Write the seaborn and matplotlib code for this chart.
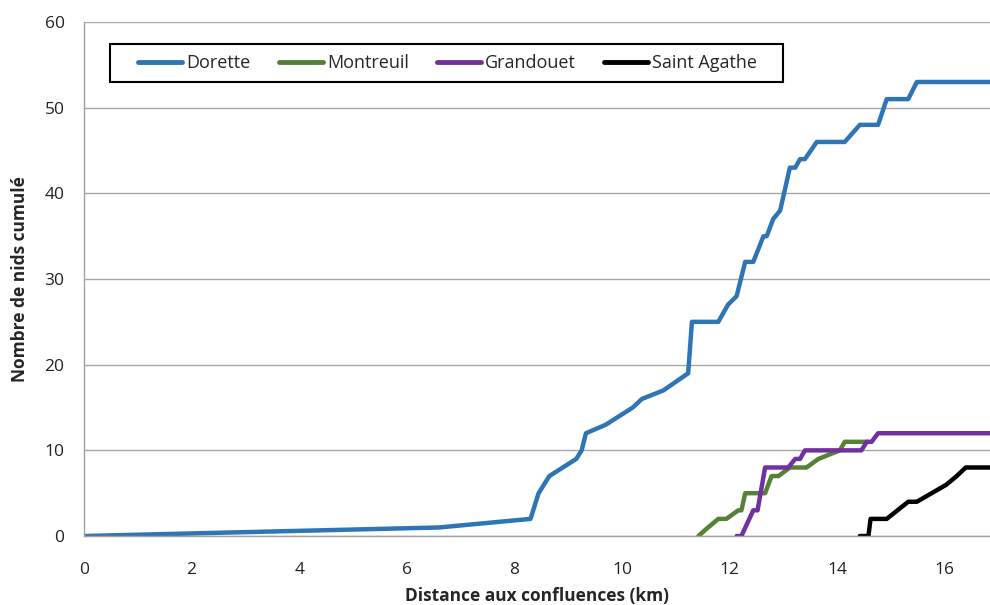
import numpy as np
import pandas as pd
import matplotlib
matplotlib.use("Agg")
import matplotlib.pyplot as plt
from matplotlib.lines import Line2D
from matplotlib.patches import Rectangle
from matplotlib.legend_handler import HandlerLine2D
import seaborn as sns

# Data
dorette_x = [0, 6.6, 8.3, 8.45, 8.65, 9.15, 9.25, 9.33, 9.7, 10.2, 10.37, 10.77, 11.23, 11.3,
             11.79, 11.97, 12.13, 12.29, 12.44, 12.63, 12.69, 12.81, 12.94, 13.12, 13.22,
             13.31, 13.4, 13.62, 14.14, 14.42, 14.76, 14.92, 15.32, 15.48, 16.84]
dorette_y = [0, 1, 2, 5, 7, 9, 10, 12, 13, 15, 16, 17, 19, 25,
             25, 27, 28, 32, 32, 35, 35, 37, 38, 43, 43,
             44, 44, 46, 46, 48, 48, 51, 51, 53, 53]

montreuil_x = [11.42, 11.6, 11.79, 11.94, 12.16, 12.22, 12.29, 12.66, 12.78, 12.91, 13.12,
               13.43, 13.65, 14.05, 14.14, 14.55]
montreuil_y = [0, 1, 2, 2, 3, 3, 5, 5, 7, 7, 8,
               8, 9, 10, 11, 11]

grandouet_x = [12.13, 12.22, 12.44, 12.52, 12.66, 13.09, 13.22, 13.31, 13.4, 14.45, 14.55,
               14.64, 14.76, 16.84]
grandouet_y = [0, 0, 3, 3, 8, 8, 9, 9, 10, 10, 11,
               11, 12, 12]

agathe_x = [14.42, 14.58, 14.62, 14.92, 15.32, 15.48, 16.03, 16.22, 16.39, 16.84]
agathe_y = [0, 0, 2, 2, 4, 4, 6, 7, 8, 8]

series_names = ["Dorette", "Montreuil", "Grandouet", "Saint Agathe"]
colors = ["#2E75B6", "#548235", "#7030A0", "#000000"]

xticks = [0, 2, 4, 6, 8, 10, 12, 14, 16]
yticks = [0, 10, 20, 30, 40, 50, 60]

frames = []
for name, xs, ys in zip(series_names,
                        [dorette_x, montreuil_x, grandouet_x, agathe_x],
                        [dorette_y, montreuil_y, grandouet_y, agathe_y]):
    frames.append(pd.DataFrame({"x": xs, "y": ys, "serie": name}))
df = pd.concat(frames, ignore_index=True)

sns.set_style("white")
plt.rcParams["font.family"] = ["Open Sans", "DejaVu Sans"]

fig = plt.figure(figsize=(9.9, 6.05), dpi=100)
ax = fig.add_axes([0.0848, 0.114, 0.9152, 0.8496])

sns.lineplot(data=df, x="x", y="y", hue="serie", hue_order=series_names,
             palette=colors, units="serie", estimator=None, sort=False,
             linewidth=3.2, ax=ax)

ax.set_xlim(0, 16.84)
ax.set_ylim(0, 60)
ax.set_xticks(xticks)
ax.set_yticks(yticks)
ax.tick_params(axis="x", labelsize=12.5, colors="#a0a0a0", labelcolor="#222222",
               length=5, width=1, direction="out", pad=13.5)
ax.tick_params(axis="y", labelsize=12.5, colors="#a0a0a0", labelcolor="#222222",
               length=6, width=1, direction="out", pad=8)
ax.yaxis.grid(True, color="#a6a6a6", linewidth=1)
ax.xaxis.grid(False)
for s in ["top", "right"]:
    ax.spines[s].set_visible(False)
for s in ["left", "bottom"]:
    ax.spines[s].set_color("#a0a0a0")
    ax.spines[s].set_linewidth(1)

ax.set_xlabel("Distance aux confluences (km)", fontsize=12.5, fontweight="bold", labelpad=7)
ax.set_ylabel("Nombre de nids cumulé", fontsize=12.5, fontweight="bold", labelpad=11)

handles, labels = ax.get_legend_handles_labels()
leg = ax.legend(handles, labels, ncol=4, loc="upper left",
                bbox_to_anchor=(0.029, 0.957), frameon=False,
                fontsize=13, handlelength=3.45,
                columnspacing=0.55, handletextpad=0.22, borderpad=0.55,
                borderaxespad=0, handler_map={Line2D: HandlerLine2D(xpad=1.0)})
for line in leg.get_lines():
    line.set_linewidth(3.5)

# Legend frame with extra room on the right, like the reference
fig.canvas.draw()
bb = leg.get_window_extent()
W, H = fig.bbox.width, fig.bbox.height
extra = 16
frame = Rectangle((bb.x0 / W, bb.y0 / H), (bb.width + extra) / W, bb.height / H,
                  transform=fig.transFigure, fill=True, facecolor="white",
                  edgecolor="black", linewidth=1.5, zorder=4)
ax.add_artist(frame)
frame.set_zorder(leg.get_zorder() - 0.5)
leg.set_zorder(6)

fig.savefig("out.png", dpi=100)
